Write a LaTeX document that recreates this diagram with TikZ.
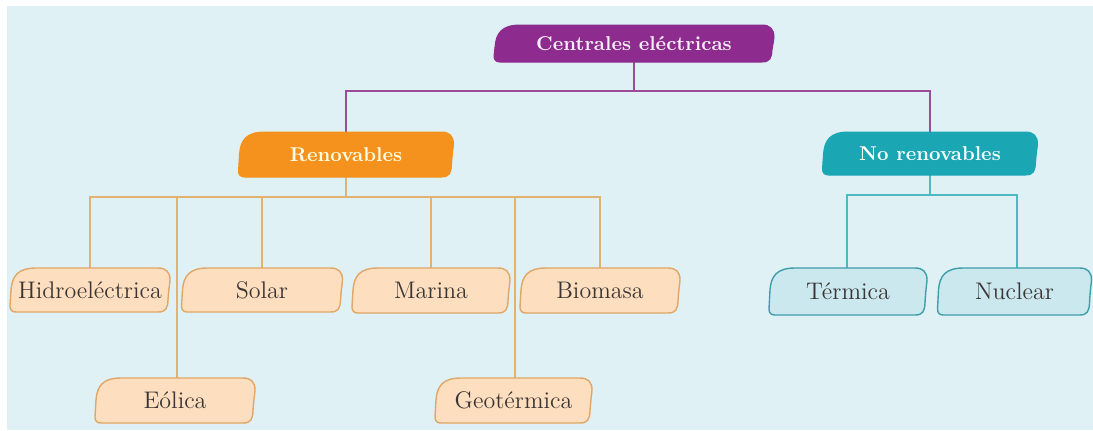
\documentclass[tikz,border=0pt]{standalone}
\usetikzlibrary{calc}
\definecolor{bgc}{HTML}{DFF1F5}
\definecolor{purp}{HTML}{8E2B8E}
\definecolor{purpline}{HTML}{9A4C98}
\definecolor{orng}{HTML}{F5921E}
\definecolor{peach}{HTML}{FDDFC0}
\definecolor{peachedge}{HTML}{E0A766}
\definecolor{orline}{HTML}{E2B370}
\definecolor{teal}{HTML}{1BA6B4}
\definecolor{lblue}{HTML}{CBE8EF}
\definecolor{lblueedge}{HTML}{3E9FAA}
\definecolor{tline}{HTML}{4DBAC2}
\definecolor{txt}{HTML}{3A3433}
\pgfdeclarelayer{bgl}
\pgfdeclarelayer{boxl}
\pgfsetlayers{bgl,boxl,main}
\newcommand\tagshape[2]{%
  \begin{pgfonlayer}{boxl}
  \draw[#2] let \p1=(#1.south west), \p2=(#1.north east) in
   (\x1+3pt,\y1) -- (\x2-6pt,\y1)
   .. controls (\x2-2pt,\y1) and (\x2-1.2pt,\y1+2pt) .. (\x2-1pt,\y1+6pt)
   .. controls (\x2-0.6pt,\y2-10pt) and (\x2,\y2-7pt) .. (\x2,\y2-6pt)
   .. controls (\x2,\y2-2pt) and (\x2-2pt,\y2) .. (\x2-6pt,\y2)
   -- (\x1+13pt,\y2)
   .. controls (\x1+4pt,\y2) and (\x1+1pt,\y2-4pt) .. (\x1+0.5pt,\y2-11pt)
   -- (\x1,\y1+3pt)
   .. controls (\x1,\y1+1pt) and (\x1+1pt,\y1) .. (\x1+3pt,\y1) -- cycle;
  \end{pgfonlayer}}
\tikzset{
  tag/.style={inner sep=0pt, outer sep=0pt, align=center},
  leaf/.style={tag, text=txt, font=\fontsize{12}{14}\selectfont},
  head/.style={tag, font=\fontsize{10}{12}\selectfont\bfseries},
  plink/.style={draw=purpline, line width=1pt},
  olink/.style={draw=orline, line width=1pt},
  tlink/.style={draw=tline, line width=1pt},
  purpbox/.style={fill=purp, draw=purp, line width=0.5pt},
  orbox/.style={fill=orng, draw=orng, line width=0.5pt},
  tealbox/.style={fill=teal, draw=teal, line width=0.5pt},
  peachbox/.style={fill=peach, draw=peachedge, line width=0.7pt},
  bluebox/.style={fill=lblue, draw=lblueedge, line width=0.7pt},
}
\begin{document}
\begin{tikzpicture}[x=0.5pt,y=-0.5pt]
\useasboundingbox (0,0) rectangle (1093,430);
\begin{pgfonlayer}{bgl}
\fill[white] (0,0) rectangle (1093,430);
\fill[bgc] (7,6) rectangle (1093,430);
\end{pgfonlayer}
% nodes
\node[head, text=white!92!purp, minimum width=140pt, minimum height=18.5pt] (cen) at (634,43.5) {Centrales eléctricas};
\node[head, text=white!88!yellow, minimum width=107.5pt, minimum height=22.5pt] (ren) at (346,154.5) {Renovables};
\node[head, text=white!95!teal, minimum width=107.5pt, minimum height=21.5pt] (nor) at (930,153.5) {No renovables};
\node[leaf, minimum width=80pt, minimum height=22pt] (hid) at (90,290) {Hidroeléctrica};
\node[leaf, minimum width=80.5pt, minimum height=22pt] (sol) at (262,290) {Solar};
\node[leaf, minimum width=79pt, minimum height=22.5pt] (mar) at (431,290.5) {Marina};
\node[leaf, minimum width=80pt, minimum height=22.5pt] (bio) at (600,290.5) {Biomasa};
\node[leaf, minimum width=80pt, minimum height=22.5pt] (eol) at (175,400.5) {Eólica};
\node[leaf, minimum width=78.5pt, minimum height=22.5pt] (geo) at (513.5,400.5) {Geotérmica};
\node[leaf, minimum width=79pt, minimum height=23.5pt] (ter) at (848,291.5) {Térmica};
\node[leaf, minimum width=77pt, minimum height=23.5pt] (nuc) at (1014.5,291.5) {Nuclear};
% shapes
\tagshape{cen}{purpbox}
\tagshape{ren}{orbox}
\tagshape{nor}{tealbox}
\tagshape{hid}{peachbox}
\tagshape{sol}{peachbox}
\tagshape{mar}{peachbox}
\tagshape{bio}{peachbox}
\tagshape{eol}{peachbox}
\tagshape{geo}{peachbox}
\tagshape{ter}{bluebox}
\tagshape{nuc}{bluebox}
% junctions
\coordinate (j1) at (634,91);
\coordinate (j2) at (346,197);
\coordinate (j3) at (930,195);
\begin{pgfonlayer}{bgl}
\draw[plink] (cen.south) -- (j1);
\draw[plink] (ren.north) |- (j1) -| (nor.north);
\draw[olink] (ren.south) -- (j2);
\draw[olink] (hid.north) |- (j2) -| (bio.north);
\draw[olink] (sol.north) |- (j2);
\draw[olink] (mar.north) |- (j2);
\draw[olink] ($(eol.north)+(2,0)$) |- (j2);
\draw[olink] ($(geo.north)+(1.5,0)$) |- (j2);
\draw[tlink] (nor.south) -- (j3);
\draw[tlink] ($(ter.north)+(-1,0)$) |- (j3) -| ($(nuc.north)+(2.5,0)$);
\end{pgfonlayer}
\end{tikzpicture}
\end{document}
